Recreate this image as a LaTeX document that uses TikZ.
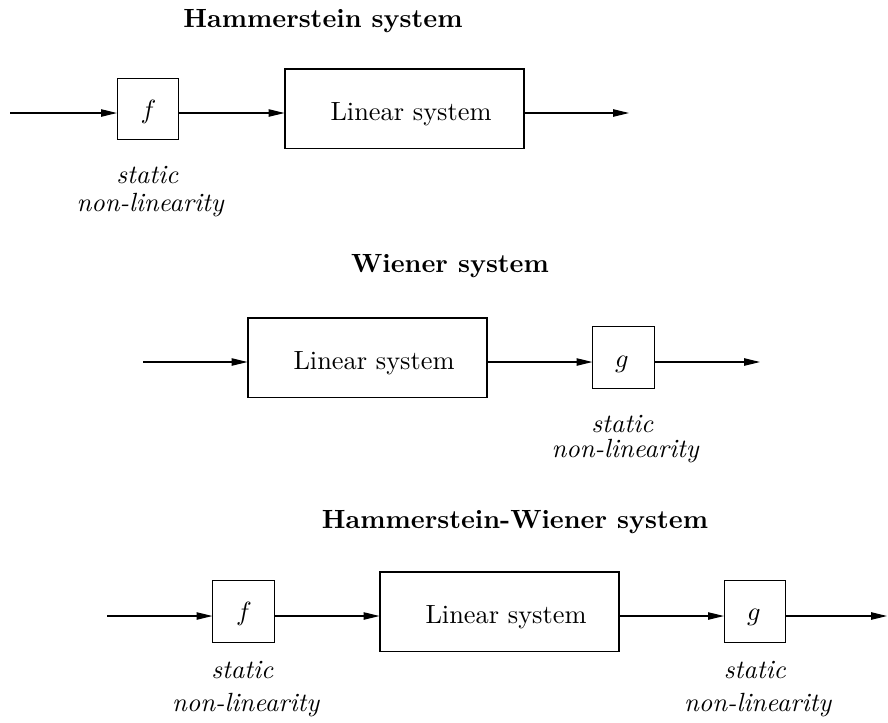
\documentclass[tikz,border=0pt]{standalone}
\usetikzlibrary{arrows.meta}

\tikzset{
  sbox/.style={draw, minimum width=23.2pt, minimum height=23.2pt, inner sep=0pt},
  lbox/.style={draw, minimum width=90.7pt, minimum height=30pt, inner sep=0pt},
  txt/.style={anchor=base, inner sep=0pt},
  arr/.style={-{Triangle[length=6pt,width=2.8pt]}},
}

\begin{document}
\begin{tikzpicture}[x=0.3795pt, y=-0.3795pt]
  \useasboundingbox (0,0) rectangle (888,722);

  % ---------------- Hammerstein system ----------------
  \node[txt] (h-title) at (323,27) {\textbf{Hammerstein system}};
  \coordinate (h-in)  at (10,113);
  \coordinate (h-out) at (629,113);
  \node[sbox] (h-f)   at (148,109) {};
  \node[txt]  (h-fl)  at (148.5,118) {$f$};
  \node[lbox] (h-lin) at (404.5,108.5) {};
  \node[txt]  (h-ll)  at (411,120) {Linear system};
  \node[txt]  (h-s1)  at (147.5,183) {\textit{static}};
  \node[txt]  (h-s2)  at (150.5,211) {\textit{non-linearity}};
  \draw[arr] (h-in) -- (h-in -| h-f.west);
  \draw[arr] (h-f.east |- h-in) -- (h-lin.west |- h-in);
  \draw[arr] (h-lin.east |- h-in) -- (h-out);

  % ---------------- Wiener system ----------------
  \node[txt] (w-title) at (450,272) {\textbf{Wiener system}};
  \coordinate (w-in)  at (143,362);
  \coordinate (w-out) at (760,362);
  \node[lbox] (w-lin) at (367.5,357.5) {};
  \node[txt]  (w-ll)  at (374,369) {Linear system};
  \node[sbox] (w-g)   at (623.5,357.5) {};
  \node[txt]  (w-gl)  at (622,367) {$g$};
  \node[txt]  (w-s1)  at (622.5,432) {\textit{static}};
  \node[txt]  (w-s2)  at (625.5,457) {\textit{non-linearity}};
  \draw[arr] (w-in) -- (w-in -| w-lin.west);
  \draw[arr] (w-lin.east |- w-in) -- (w-g.west |- w-in);
  \draw[arr] (w-g.east |- w-in) -- (w-out);

  % ---------------- Hammerstein-Wiener system ----------------
  \node[txt] (hw-title) at (515,528) {\textbf{Hammerstein-Wiener system}};
  \coordinate (hw-in)  at (107,616);
  \coordinate (hw-out) at (887,616);
  \node[sbox] (hw-f)   at (243.5,611.5) {};
  \node[txt]  (hw-fl)  at (244,620.5) {$f$};
  \node[lbox] (hw-lin) at (499.5,611.5) {};
  \node[txt]  (hw-ll)  at (506,623) {Linear system};
  \node[sbox] (hw-g)   at (755,611.5) {};
  \node[txt]  (hw-gl)  at (754,620) {$g$};
  \node[txt]  (hw-s1)  at (242.5,678) {\textit{static}};
  \node[txt]  (hw-s2)  at (246,711) {\textit{non-linearity}};
  \node[txt]  (hw-s3)  at (755,678) {\textit{static}};
  \node[txt]  (hw-s4)  at (758,711) {\textit{non-linearity}};
  \draw[arr] (hw-in) -- (hw-in -| hw-f.west);
  \draw[arr] (hw-f.east |- hw-in) -- (hw-lin.west |- hw-in);
  \draw[arr] (hw-lin.east |- hw-in) -- (hw-g.west |- hw-in);
  \draw[arr] (hw-g.east |- hw-in) -- (hw-out);
\end{tikzpicture}
\end{document}
